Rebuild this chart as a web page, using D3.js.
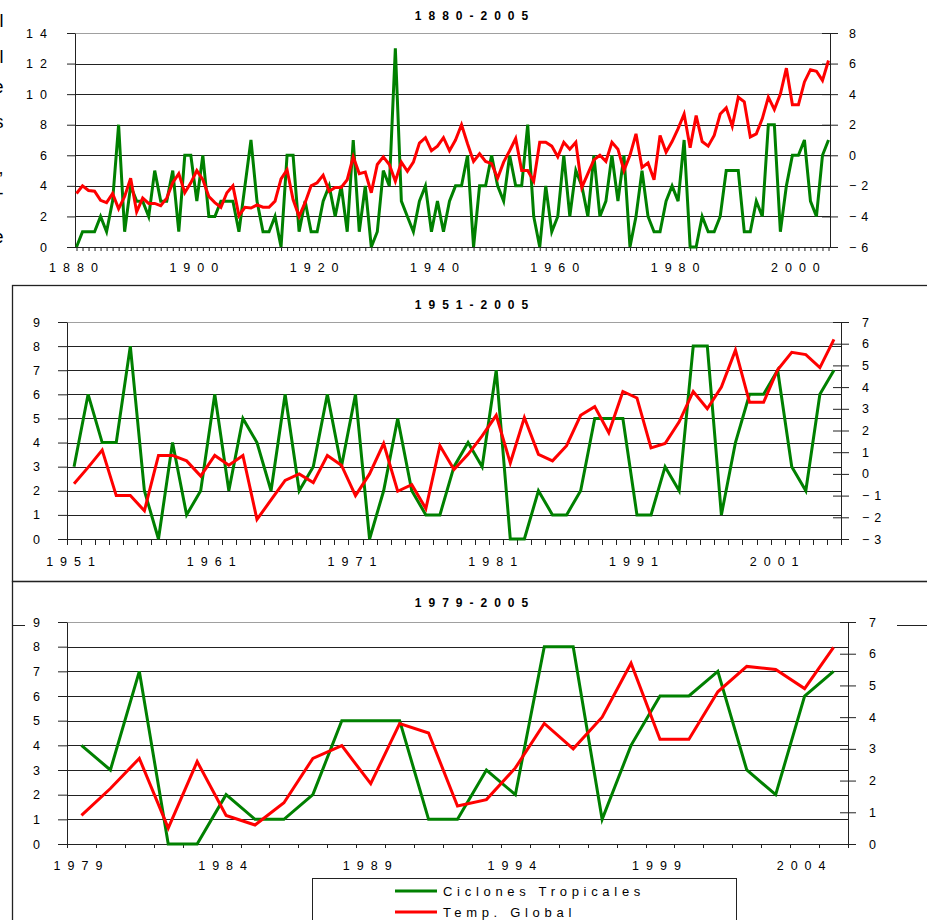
<!DOCTYPE html>
<html>
<head>
<meta charset="utf-8">
<script src="https://cdn.jsdelivr.net/npm/d3@7"></script>
<style>
  body { margin: 0; background: #fff; }
  svg { font-family: "Liberation Sans", Arial, sans-serif; }
</style>
</head>
<body>
<svg id="chart" width="927" height="920"></svg>
<script>
// years shown in the top panel
var years = d3.range(1880, 2006);

// Ciclones Tropicales (left axis), 1880-2005
var ciclones = [
  0, 1, 1, 1, 2, 1, 3, 8, 1, 4,
  3, 3, 2, 5, 3, 3, 5, 1, 6, 6,
  3, 6, 2, 2, 3, 3, 3, 1, 4, 7,
  3, 1, 1, 2, 0, 6, 6, 1, 3, 1,
  1, 3, 4, 2, 4, 1, 7, 1, 4, 0,
  1, 5, 4, 13, 3, 2, 1, 3, 4, 1,
  3, 1, 3, 4, 4, 6, 0, 4, 4, 6,
  4, 3, 6, 4, 4, 8, 2, 0, 4, 1,
  2, 6, 2, 5, 4, 2, 6, 2, 3, 6,
  3, 6, 0, 2, 5, 2, 1, 1, 3, 4,
  3, 7, 0, 0, 2, 1, 1, 2, 5, 5,
  5, 1, 1, 3, 2, 8, 8, 1, 4, 6,
  6, 7, 3, 2, 6, 7
];

// Temp. Global (right axis), 1880-2005
var tempGlobal = [
  -2.5, -2.0, -2.3, -2.35, -2.95, -3.1, -2.5, -3.5, -2.7, -1.5,
  -3.7, -2.8, -3.15, -3.15, -3.3, -2.8, -1.8, -1.2, -2.45, -1.8,
  -1.0, -1.6, -2.7, -3.1, -3.4, -2.45, -2.0, -3.95, -3.4, -3.45,
  -3.25, -3.4, -3.4, -3.0, -1.55, -0.95, -2.9, -4.0, -3.1, -2.0,
  -1.8, -1.3, -2.35, -2.1, -2.1, -1.6, -0.1, -1.2, -1.1, -2.45,
  -0.6, -0.1, -0.6, -1.7, -0.45, -1.05, -0.45, 0.8, 1.15, 0.3,
  0.6, 1.15, 0.3, 1.0, 2.0, 0.75, -0.4, 0.1, -0.4, -0.55,
  -1.5, -0.45, 0.3, 1.1, -1.0, -1.0, -1.7, 0.85, 0.85, 0.6,
  -0.1, 0.85, 0.4, 0.85, -2.1, -1.2, -0.3, 0.0, -0.4, 0.85,
  0.4, -1.0, 0.0, 1.4, -0.8, -0.5, -1.6, 1.3, 0.2, 0.9,
  1.75, 2.7, 0.5, 2.6, 0.9, 0.6, 1.3, 2.7, 3.1, 1.9,
  3.8, 3.5, 1.2, 1.4, 2.4, 3.8, 3.0, 4.0, 5.7, 3.3,
  3.3, 4.8, 5.6, 5.5, 4.9, 6.2
];

var titles = ["1880-2005", "1951-2005", "1979-2005"];
var startYears = [1880, 1951, 1979];
var leftTicks = [d3.range(0, 15, 2), d3.range(0, 10), d3.range(0, 10)];
var rightTicks = [d3.range(-6, 9, 2), d3.range(-3, 8), d3.range(0, 8)];
var labelYears = [d3.range(1880, 2006, 20), d3.range(1951, 2006, 10), d3.range(1979, 2006, 5)];
var seriesNames = ["Ciclones Tropicales", "Temp. Global"];
var seriesColors = ["#008000", "#ff0000"];

var svg = d3.select("#chart");

// boxes round the two lower panels (they run off the page on the right)
svg.append("rect").attr("x", 12.5).attr("y", 285.5).attr("width", 940).attr("height", 296)
  .attr("fill", "none").attr("stroke", "#222").attr("stroke-width", 1.3);
svg.append("rect").attr("x", 12.5).attr("y", 581.5).attr("width", 940).attr("height", 400)
  .attr("fill", "none").attr("stroke", "#222").attr("stroke-width", 1.3);
svg.append("line").attr("x1", 12).attr("x2", 25).attr("y1", 625.5).attr("y2", 625.5).attr("stroke", "#222");
svg.append("line").attr("x1", 897).attr("x2", 927).attr("y1", 625.5).attr("y2", 625.5).attr("stroke", "#222");

// clipped letters peeking in at the left edge
var edgeText = [["l", 27], ["l", 63], ["e", 93], ["s", 128], [",", 174], ["-", 199], ["e", 243]];
svg.selectAll(".edge").data(edgeText).enter().append("text")
  .attr("x", 3.5).attr("y", d => d[1]).attr("text-anchor", "end")
  .style("font-size", "18px").text(d => d[0]);

var layouts = [
  {left: 75, right: 830, top: 33, bottom: 247, band: false, tickL: 8, padL: 13, padR: 11, xTick: 4, xLab: 16, titleY: 20},
  {left: 67, right: 841, top: 322, bottom: 539, band: true, tickL: 9, padL: 11, padR: 13, xTick: 6, xLab: 18.5, titleY: 309},
  {left: 67, right: 848, top: 622, bottom: 844, band: true, tickL: 9, padL: 11, padR: 13, xTick: 4, xLab: 17.5, titleY: 607}
];

function styleAxis(a, spacing) {
  a.attr("font-size", null).attr("font-family", null).attr("color", "#222");
  a.selectAll("text").style("font-size", "12.5px").style("letter-spacing", spacing + "px").attr("fill", "#000");
}

layouts.forEach(function(p, i) {
  var g = svg.append("g");
  var yrs = years.filter(y => y >= startYears[i]);
  var data = yrs.map(y => ({year: y, c: ciclones[y - 1880], t: tempGlobal[y - 1880]}));
  var lt = leftTicks[i], rt = rightTicks[i];

  var yL = d3.scaleLinear().domain([lt[0], lt[lt.length - 1]]).range([p.bottom, p.top]);
  var yR = d3.scaleLinear().domain([rt[0], rt[rt.length - 1]]).range([p.bottom, p.top]);
  var x, xPos;
  if (p.band) {
    x = d3.scaleBand().domain(yrs).range([p.left, p.right]);
    xPos = d => x(d) + x.bandwidth() / 2;
  } else {
    x = d3.scaleLinear().domain(d3.extent(yrs)).range([p.left + 1.5, p.right - 1.5]);
    xPos = x;
  }

  // gridlines
  g.selectAll(".grid").data(lt).enter().append("line")
    .attr("x1", p.left).attr("x2", p.right)
    .attr("y1", d => Math.round(yL(d)) + 0.5).attr("y2", d => Math.round(yL(d)) + 0.5)
    .attr("stroke", d => d === lt[lt.length - 1] ? "#a0a0a0" : "#222");

  // left axis
  g.append("g").attr("transform", `translate(${p.left},0)`)
    .call(d3.axisLeft(yL).tickValues(lt).tickSize(p.tickL).tickPadding(p.padL).tickSizeOuter(0).tickFormat(d3.format("d")))
    .call(a => styleAxis(a, 7));

  // right axis, ticks cross the line
  g.append("g").attr("transform", `translate(${p.right},0)`)
    .call(d3.axisRight(yR).tickValues(rt).tickSize(8).tickPadding(p.padR).tickSizeOuter(0).tickFormat(d3.format("d")))
    .call(a => styleAxis(a, 5))
    .call(a => a.selectAll(".tick line").attr("x1", -8));

  // bottom axis line
  g.append("line").attr("x1", p.left - p.tickL).attr("x2", p.right)
    .attr("y1", p.bottom + 0.5).attr("y2", p.bottom + 0.5).attr("stroke", "#222");

  if (p.band) {
    var edges = yrs.map(d => x(d)).concat([x.range()[1]]);
    g.selectAll(".xt").data(edges).enter().append("line")
      .attr("x1", d => Math.round(d) + 0.5).attr("x2", d => Math.round(d) + 0.5)
      .attr("y1", p.bottom).attr("y2", p.bottom + p.xTick).attr("stroke", "#222");
    g.append("g").attr("transform", `translate(0,${p.bottom})`)
      .call(d3.axisBottom(x).tickValues(labelYears[i]).tickSize(0).tickPadding(p.xLab))
      .call(a => styleAxis(a, 7))
      .call(a => a.select(".domain").remove());
  } else {
    g.append("g").attr("transform", `translate(0,${p.bottom})`)
      .call(d3.axisBottom(x).tickValues(yrs).tickSize(p.xTick).tickPadding(p.xLab - p.xTick)
        .tickFormat(d => labelYears[i].includes(d) ? d : ""))
      .call(a => styleAxis(a, 7))
      .call(a => a.select(".domain").remove());
  }

  // series
  g.append("path").datum(data)
    .attr("fill", "none").attr("stroke", seriesColors[0]).attr("stroke-width", 3).attr("stroke-linejoin", "miter")
    .attr("d", d3.line().x(d => xPos(d.year)).y(d => yL(d.c)));
  g.append("path").datum(data)
    .attr("fill", "none").attr("stroke", seriesColors[1]).attr("stroke-width", 3).attr("stroke-linejoin", "miter")
    .attr("d", d3.line().x(d => xPos(d.year)).y(d => yR(d.t)));

  // title
  g.append("text").attr("x", 475).attr("y", p.titleY).attr("text-anchor", "middle")
    .style("font-size", "12px").style("font-weight", "bold").style("letter-spacing", "7px")
    .text(titles[i]);
});

// legend
var legend = svg.append("g");
legend.append("rect").attr("x", 312.5).attr("y", 878.5).attr("width", 424).attr("height", 80)
  .attr("fill", "#fff").attr("stroke", "#222");
var items = legend.selectAll(".item").data(seriesNames).enter().append("g")
  .attr("transform", (d, i) => `translate(0,${891 + i * 21})`);
items.append("line").attr("x1", 395).attr("x2", 437).attr("stroke-width", 3)
  .attr("stroke", (d, i) => seriesColors[i]);
items.append("text").attr("x", 443).attr("y", 5)
  .style("font-size", "13px").style("letter-spacing", "4.7px").text(d => d);
</script>
</body>
</html>
